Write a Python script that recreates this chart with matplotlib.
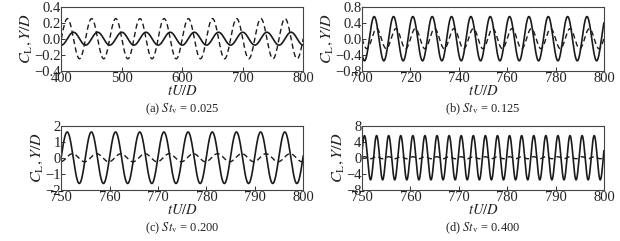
import numpy as np
import matplotlib
matplotlib.use('Agg')
from matplotlib import pyplot as plt

plt.rcParams['font.family'] = ['Liberation Serif', 'DejaVu Serif']
plt.rcParams['mathtext.fontset'] = 'stix'
plt.rcParams['axes.unicode_minus'] = True

# panel captions and reduced frequencies
panel_tags = ['(a)', '(b)', '(c)', '(d)']
st_v = [0.025, 0.125, 0.200, 0.400]

# time windows shown (tU/D)
t_start = [400, 700, 750, 750]
t_end = [800, 800, 800, 800]
x_ticks = [[400, 500, 600, 700, 800],
           [700, 720, 740, 760, 780, 800],
           [750, 760, 770, 780, 790, 800],
           [750, 760, 770, 780, 790, 800]]

# lift coefficient C_L (solid) and displacement Y/D (dashed)
cl_amp = [0.08, 0.55, 1.6, 5.5]
cl_peak = [500, 721, 751.2, 750.5]   # time of one C_L crest
yd_amp = [0.25, 0.25, 0.25, 0.25]
yd_peak = [490, 722, 752.3, 750.5]   # time of one Y/D crest

y_ticks = [[-0.4, -0.2, 0.0, 0.2, 0.4],
           [-0.8, -0.4, 0.0, 0.4, 0.8],
           [-2, -1, 0, 1, 2],
           [-8, -4, 0, 4, 8]]
y_fmt = ['%.1f', '%.1f', '%d', '%d']

fig = plt.figure(figsize=(6.2, 2.41), dpi=100)

lefts = [0.099, 0.584, 0.099, 0.584]
bottoms = [0.706, 0.706, 0.212, 0.212]
w, h = 0.39, 0.267

for i in range(4):
    ax = fig.add_axes([lefts[i], bottoms[i], w, h])
    t = np.linspace(t_start[i], t_end[i], 3000)
    period = 1.0 / st_v[i]
    cl = cl_amp[i] * np.cos(2 * np.pi * (t - cl_peak[i]) / period)
    yd = yd_amp[i] * np.cos(2 * np.pi * (t - yd_peak[i]) / period)
    ax.plot(t, cl, color='#1a1a1a', lw=1.2)
    ax.plot(t, yd, color='#1a1a1a', lw=1.0, dashes=(3.8, 2.4))

    ax.set_xlim(t_start[i], t_end[i])
    ax.set_ylim(y_ticks[i][0], y_ticks[i][-1])
    ax.set_xticks(x_ticks[i])
    ax.set_yticks(y_ticks[i])
    ax.set_yticklabels([(y_fmt[i] % v).replace('-', '\u2212') for v in y_ticks[i]])
    ax.tick_params(direction='in', length=3, width=0.7, labelsize=10.5, pad=1,
                   colors='#333333', labelcolor='#222222')
    ax.tick_params(axis='y', pad=0.5)
    for s in ax.spines.values():
        s.set_linewidth(0.8)
        s.set_color('#444444')

    ax.set_xlabel(r'$tU/D$', fontsize=10.5, labelpad=-1, color='#222222')
    ax.set_ylabel(r'$C_{\rm L}, Y/D$', fontsize=11.5, labelpad=0, color='#222222')

    fig.text(lefts[i] + w / 2, bottoms[i] - 0.16,
             panel_tags[i] + r' $St_{\rm v}$ = %.3f' % st_v[i],
             ha='center', va='center', fontsize=9, color='#222222')

fig.savefig('out.png', dpi=100)
